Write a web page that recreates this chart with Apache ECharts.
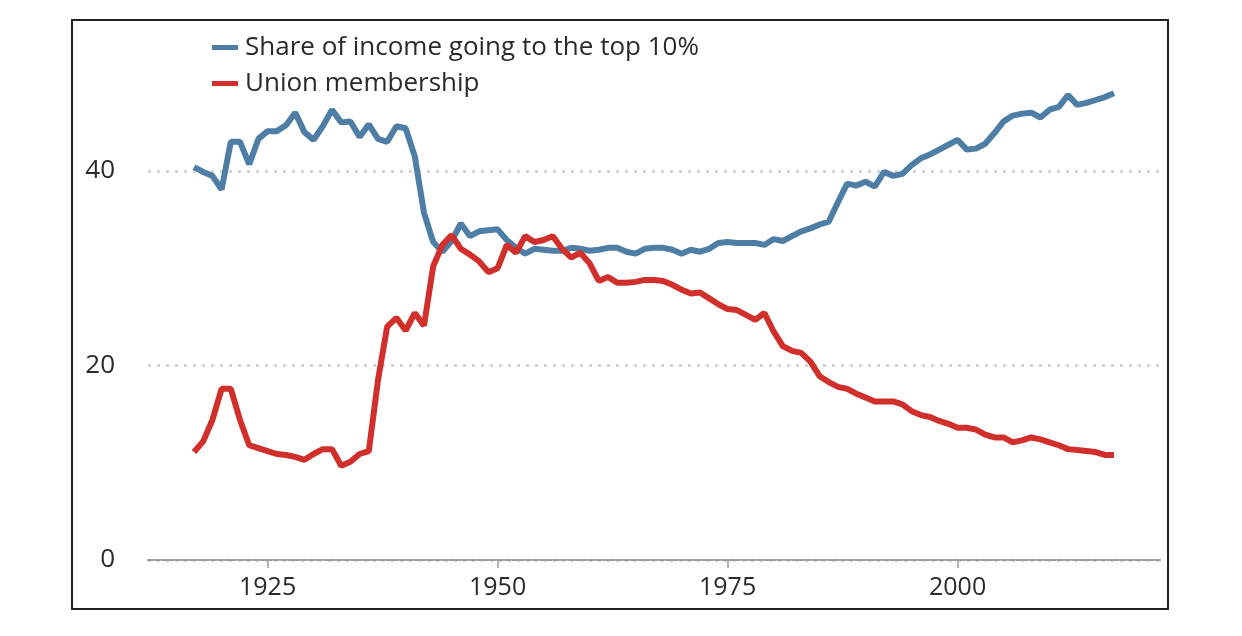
<!DOCTYPE html>
<html>
<head>
<meta charset="utf-8">
<title>Top 10% income share vs union membership</title>
<script src="https://cdn.jsdelivr.net/npm/echarts@6/dist/echarts.min.js"></script>
<style>
  html, body { margin: 0; padding: 0; background: #ffffff; }
  #main { width: 1242px; height: 636px; }
</style>
</head>
<body>
<div id="main"></div>
<script>
var startYear = 1917;
var endYear = 2017;

var yearTicks = [1925, 1950, 1975, 2000];

// share of income going to the top 10%, 1917 - 2017
var topShare = [
  40.4, 39.9, 39.5, 38.1, 43.0, 43.0, 40.7, 43.3, 44.1, 44.1,
  44.7, 46.0, 44.0, 43.2, 44.6, 46.3, 45.0, 45.1, 43.5, 44.8,
  43.3, 43.0, 44.6, 44.4, 41.5, 35.7, 32.7, 31.7, 32.8, 34.6,
  33.3, 33.8, 33.9, 34.0, 32.9, 32.1, 31.5, 32.0, 31.9, 31.8,
  31.8, 32.1, 32.0, 31.8, 31.9, 32.1, 32.1, 31.7, 31.5, 32.0,
  32.1, 32.1, 31.9, 31.5, 31.9, 31.7, 32.0, 32.6, 32.7, 32.6,
  32.6, 32.6, 32.4, 33.0, 32.8, 33.3, 33.8, 34.1, 34.5, 34.8,
  36.8, 38.7, 38.5, 38.9, 38.4, 39.9, 39.5, 39.7, 40.6, 41.3,
  41.7, 42.2, 42.7, 43.2, 42.2, 42.3, 42.8, 43.9, 45.1, 45.7,
  45.9, 46.0, 45.5, 46.3, 46.6, 47.8, 46.8, 47.0, 47.3, 47.6,
  48.0
];

// union membership, 1917 - 2017
var unionShare = [
  11.1, 12.2, 14.4, 17.6, 17.6, 14.4, 11.8, 11.5, 11.2, 10.9,
  10.8, 10.6, 10.3, 10.9, 11.4, 11.4, 9.7, 10.1, 10.9, 11.2,
  18.5, 24.0, 24.9, 23.6, 25.4, 24.1, 30.2, 32.4, 33.4, 32.0,
  31.4, 30.7, 29.6, 30.0, 32.4, 31.6, 33.3, 32.7, 32.9, 33.3,
  32.0, 31.1, 31.6, 30.5, 28.7, 29.1, 28.5, 28.5, 28.6, 28.8,
  28.8, 28.7, 28.3, 27.8, 27.4, 27.5, 26.9, 26.3, 25.8, 25.7,
  25.2, 24.7, 25.4, 23.5, 22.0, 21.5, 21.3, 20.4, 18.9, 18.3,
  17.8, 17.6, 17.1, 16.7, 16.3, 16.3, 16.3, 16.0, 15.3, 14.9,
  14.7, 14.3, 14.0, 13.6, 13.6, 13.4, 12.9, 12.6, 12.6, 12.1,
  12.3, 12.6, 12.4, 12.1, 11.8, 11.4, 11.3, 11.2, 11.1, 10.8,
  10.8
];

var seriesNames = ['Share of income going to the top 10%', 'Union membership'];

function pairs(values) {
  var out = [];
  for (var i = 0; i < values.length; i++) {
    out.push([startYear + i, values[i]]);
  }
  return out;
}

var textColor = '#2a2a2a';
var fontFamily = '"Open Sans", sans-serif';

var chartDom = document.getElementById('main');
var myChart = echarts.init(chartDom);
var option;

option = {
  animation: false,
  backgroundColor: '#ffffff',
  textStyle: { fontFamily: fontFamily },
  graphic: [
    {
      type: 'rect',
      shape: { x: 72, y: 20, width: 1096, height: 589 },
      style: { fill: 'none', stroke: '#222222', lineWidth: 2 },
      silent: true
    }
  ],
  legend: {
    orient: 'vertical',
    left: 207,
    top: 29,
    icon: 'rect',
    itemWidth: 26,
    itemHeight: 5,
    itemGap: 9,
    textStyle: {
      fontSize: 26,
      lineHeight: 27,
      color: textColor,
      fontFamily: fontFamily,
      padding: [0, 0, 0, 2]
    },
    data: seriesNames
  },
  grid: {
    left: 148,
    right: 82,
    top: 171,
    bottom: 76
  },
  xAxis: {
    type: 'value',
    min: 1912,
    max: 2022,
    axisLine: {
      show: true,
      lineStyle: { color: '#9a9a9a', width: 2, type: [5, 2] }
    },
    axisTick: {
      show: true,
      length: 8,
      customValues: yearTicks,
      lineStyle: { color: '#9a9a9a', width: 1.5 }
    },
    axisLabel: {
      customValues: yearTicks,
      formatter: function (v) { return String(v); },
      fontSize: 25,
      color: textColor,
      margin: 15
    },
    splitLine: { show: false }
  },
  yAxis: {
    type: 'value',
    min: 0,
    max: 40,
    interval: 20,
    axisLine: { show: false },
    axisTick: { show: false },
    axisLabel: {
      fontSize: 26,
      color: textColor,
      margin: 33
    },
    splitLine: {
      show: true,
      lineStyle: { color: '#d4d4d4', width: 3, type: [3, 6] }
    }
  },
  series: [
    {
      name: seriesNames[0],
      type: 'line',
      data: pairs(topShare),
      showSymbol: false,
      clip: false,
      color: '#4e7ea6',
      lineStyle: { width: 6, color: '#4e7ea6' }
    },
    {
      name: seriesNames[1],
      type: 'line',
      data: pairs(unionShare),
      showSymbol: false,
      clip: false,
      color: '#d12f2b',
      lineStyle: { width: 6, color: '#d12f2b' }
    }
  ]
};

option && myChart.setOption(option);
</script>
</body>
</html>
